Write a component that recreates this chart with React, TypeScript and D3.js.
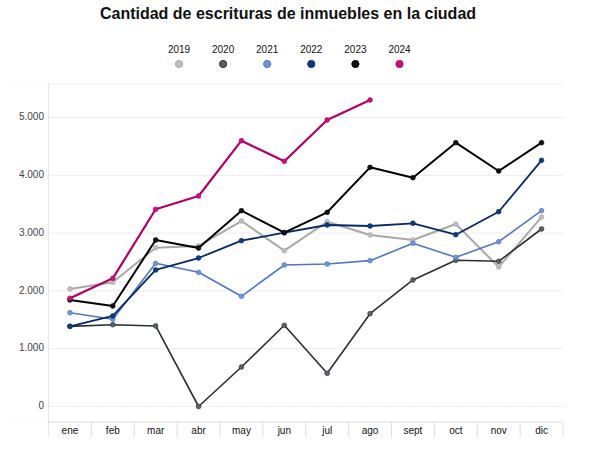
import React from "react";
import * as d3 from "d3";

const months = ["ene", "feb", "mar", "abr", "may", "jun", "jul", "ago", "sept", "oct", "nov", "dic"];
const years = ["2019", "2020", "2021", "2022", "2023", "2024"];
const s2019 = [2033, 2148, 2747, 2777, 3209, 2696, 3197, 2967, 2881, 3157, 2413, 3278];
const s2020 = [1387, 1415, 1393, 0, 683, 1405, 574, 1606, 2189, 2529, 2512, 3071];
const s2021 = [1623, 1509, 2477, 2322, 1907, 2448, 2465, 2523, 2823, 2581, 2851, 3388];
const s2022 = [1387, 1566, 2362, 2569, 2869, 3007, 3140, 3123, 3170, 2972, 3370, 4259];
const s2023 = [1843, 1739, 2881, 2742, 3388, 3007, 3360, 4138, 3959, 4564, 4074, 4564];
const s2024 = [1872, 2218, 3412, 3642, 4599, 4242, 4957, 5303];
const yTicks = [0, 1000, 2000, 3000, 4000, 5000];

const seriesList = [
  { year: "2019", values: s2019, color: "#bdbdbd", stroke: "#a8a8a8", width: 2 },
  { year: "2020", values: s2020, color: "#5a6068", stroke: "#2b2f35", width: 1.6 },
  { year: "2021", values: s2021, color: "#6e93d8", stroke: "#4f77c4", width: 1.6 },
  { year: "2022", values: s2022, color: "#0d3a80", stroke: "#062a66", width: 1.8 },
  { year: "2023", values: s2023, color: "#111111", stroke: "#000000", width: 2 },
  { year: "2024", values: s2024, color: "#c8107a", stroke: "#b00069", width: 2.2 },
];

const W = 605;
const H = 475;
const font = "'Liberation Sans', Arial, sans-serif";

export default function App() {
  const x = d3.scaleBand<string>().domain(months).range([48.5, 563]).padding(0);
  const y = d3.scaleLinear().domain([0, 5000]).range([406.5, 117.5]);
  const cx = (m: string) => (x(m) as number) + x.bandwidth() / 2;
  const legendX = d3.scalePoint<string>().domain(years).range([179, 399.5]);
  const line = d3
    .line<number>()
    .x((_, i) => cx(months[i]))
    .y((d) => y(d));

  return (
    <svg
      width={W}
      height={H}
      style={{ position: "absolute", left: 0, top: 0, background: "#fff" }}
      fontFamily={font}
    >
      <rect x={0} y={0} width={W} height={H} fill="#fff" />
      <text x={288} y={15} textAnchor="middle" dominantBaseline="middle" fontSize={16} fontWeight="bold" fill="#111">
        Cantidad de escrituras de inmuebles en la ciudad
      </text>

      {/* legend */}
      {seriesList.map((s) => (
        <g key={s.year}>
          <text x={legendX(s.year)} y={53.3} textAnchor="middle" fontSize={10} fill="#111">
            {s.year}
          </text>
          <circle cx={legendX(s.year)} cy={64} r={3.6} fill={s.color} stroke={s.stroke} strokeWidth={1} />
        </g>
      ))}

      {/* frame / grid */}
      <line x1={15} x2={48.5} y1={84} y2={84} stroke="#eee" strokeDasharray="1,2" />
      <line x1={48.5} x2={563} y1={84} y2={84} stroke="#f0f0f0" />
      <line x1={48.5} x2={48.5} y1={84} y2={437} stroke="#e6e6e6" />
      {yTicks.filter((t) => t > 0).map((t) => (
        <line key={t} x1={48.5} x2={563} y1={y(t)} y2={y(t)} stroke="#ececec" />
      ))}
      <line x1={48.5} x2={565} y1={y(0)} y2={y(0)} stroke="#cfcfcf" strokeDasharray="1,2" />
      <line x1={10} x2={48.5} y1={421} y2={421} stroke="#e6e6e6" strokeDasharray="1,2" />
      {yTicks.map((t) => (
        <text key={t} x={44} y={y(t)} textAnchor="end" dominantBaseline="middle" fontSize={10} fill="#444">
          {d3.format(",")(t).replace(/,/g, ".")}
        </text>
      ))}

      {/* x axis cells */}
      <line x1={48.5} x2={563} y1={422} y2={422} stroke="#ddd" />
      {months.map((m) => (
        <g key={m}>
          <line x1={(x(m) as number) + x.bandwidth()} x2={(x(m) as number) + x.bandwidth()} y1={422} y2={437} stroke="#ddd" />
          <text x={cx(m)} y={431} textAnchor="middle" dominantBaseline="middle" fontSize={10} fill="#111">
            {m}
          </text>
        </g>
      ))}

      {/* series */}
      {seriesList.map((s) => (
        <g key={s.year}>
          <path d={line(s.values) || ""} fill="none" stroke={s.stroke} strokeWidth={s.width} strokeLinejoin="round" />
          {s.values.map((v, i) => (
            <circle key={i} cx={cx(months[i])} cy={y(v)} r={2.4} fill={s.color} stroke={s.stroke} strokeWidth={0.6} />
          ))}
        </g>
      ))}
    </svg>
  );
}
